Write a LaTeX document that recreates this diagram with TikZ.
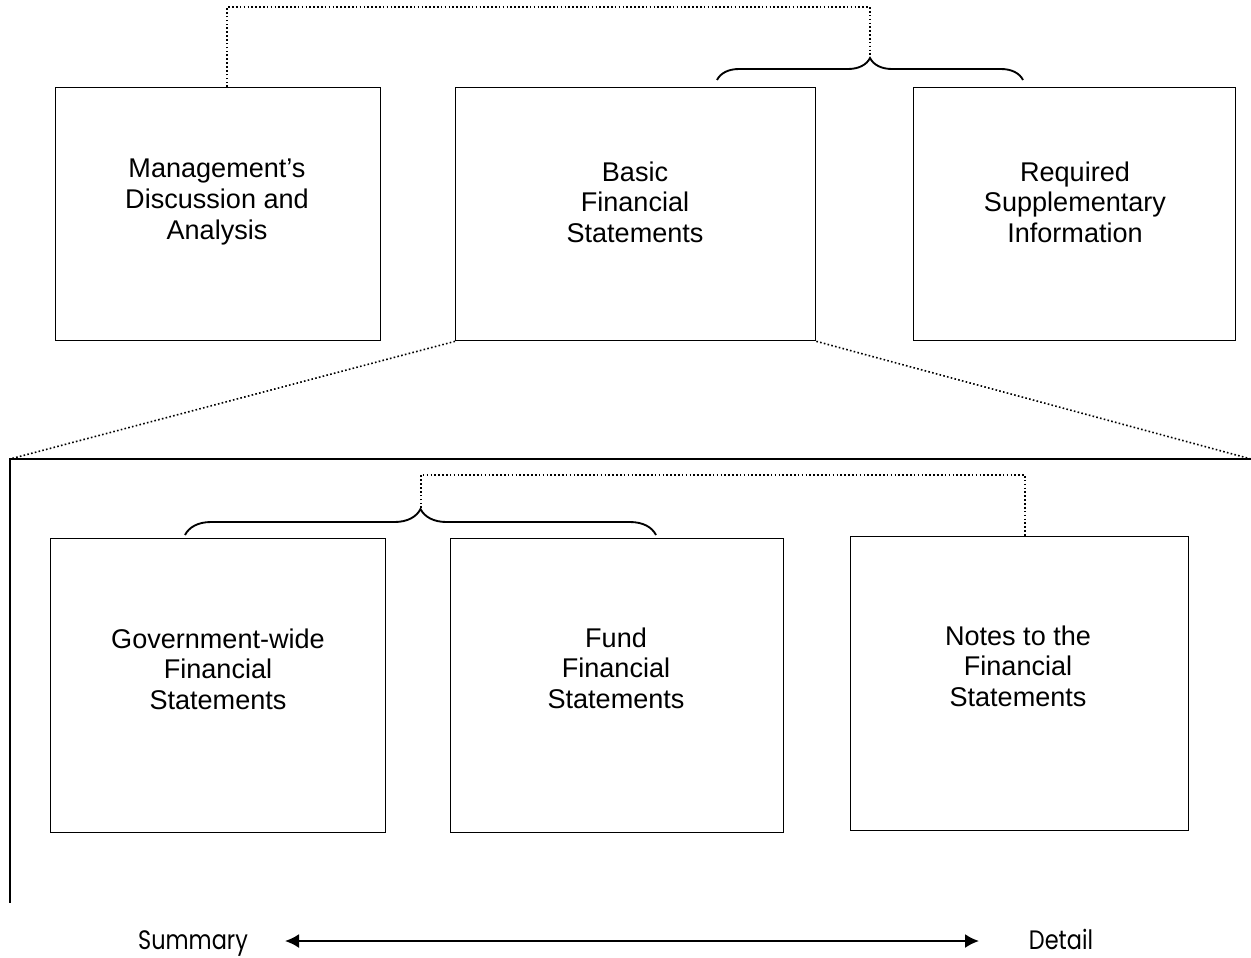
\documentclass[tikz,border=0pt]{standalone}
\usepackage{fontspec}
\setmainfont{Liberation Sans}
\newfontfamily\gothic[FakeStretch=0.84]{Poppins}
\usetikzlibrary{decorations.pathreplacing,arrows.meta}
\begin{document}
\begin{tikzpicture}[x=0.75pt,y=-0.75pt,
  box/.style={draw, line width=1pt, inner sep=0pt, anchor=north west},
  lbl/.style={align=center, font=\fontsize{20.3}{23}\selectfont, inner sep=0pt},
  dots/.style={line width=1.2pt, dash pattern=on 1.2pt off 1.7pt},
  bracea/.style={decorate, decoration={brace, amplitude=#1}, line width=1.4pt},
  axis/.style={font=\gothic\fontsize{20}{24}\selectfont, inner sep=0pt, anchor=base}]
\useasboundingbox (0,0) rectangle (1251,957);
% top boxes
\node[box, minimum width=243.75pt, minimum height=189.75pt] (mda) at (55,87) {};
\node[box, minimum width=270pt, minimum height=189.75pt] (bfs) at (455,87) {};
\node[box, minimum width=241.5pt, minimum height=189.75pt] (rsi) at (913,87) {};
\node[lbl] (mdat) at (217,202) {Management’s\\Discussion and\\Analysis};
\node[lbl] (bfst) at (635,202) {Basic\\Financial\\Statements};
\node[lbl] (rsit) at (1075,202) {Required\\Supplementary\\Information};
% bottom boxes
\node[box, minimum width=251.25pt, minimum height=220.5pt] (gov) at (50,538) {};
\node[box, minimum width=249.75pt, minimum height=220.5pt] (fund) at (450,538) {};
\node[box, minimum width=253.5pt, minimum height=220.5pt] (notes) at (850,536) {};
\node[lbl] (govt) at (218,669) {Government-wide\\Financial\\Statements};
\node[lbl] (fundt) at (616,668) {Fund\\Financial\\Statements};
\node[lbl] (notest) at (1018,666) {Notes to the\\Financial\\Statements};
% top brace + dotted link
\coordinate (b1l) at (717,80);
\coordinate (b1r) at (1023,80);
\coordinate (b1tip) at (870,57);
\coordinate (d1) at (870,7);
\coordinate (mdaTop) at (227,87);
\draw[bracea=16.5pt] (b1l) -- (b1r);
\draw[dots] (mdaTop) |- (d1) -- (b1tip);
% frame
\coordinate (fTL) at (10,459);
\coordinate (fTR) at (1251,459);
\coordinate (fBL) at (10,903);
\draw[dots] (bfs.south west) -- (fTL);
\draw[dots] (bfs.south east) -- (fTR);
\draw[line width=1.4pt] (fTR) -- (fTL) -- (fBL);
% bottom brace + dotted link
\coordinate (b2l) at (185,535);
\coordinate (b2r) at (656,535);
\coordinate (b2tip) at (421,508);
\coordinate (d2) at (421,475);
\coordinate (notesTop) at (1025,536);
\draw[bracea=19.5pt] (b2l) -- (b2r);
\draw[dots] (b2tip) -- (d2) -| (notesTop);
% summary / detail axis
\node[axis] (sum) at (193,949) {Summary};
\node[axis] (det) at (1061,949) {Detail};
\coordinate (al) at (285,941);
\coordinate (ar) at (979,941);
\draw[line width=1.5pt, {Latex[length=10.5pt,width=10.5pt]}-{Latex[length=10.5pt,width=10.5pt]}] (al) -- (ar);
\end{tikzpicture}
\end{document}
